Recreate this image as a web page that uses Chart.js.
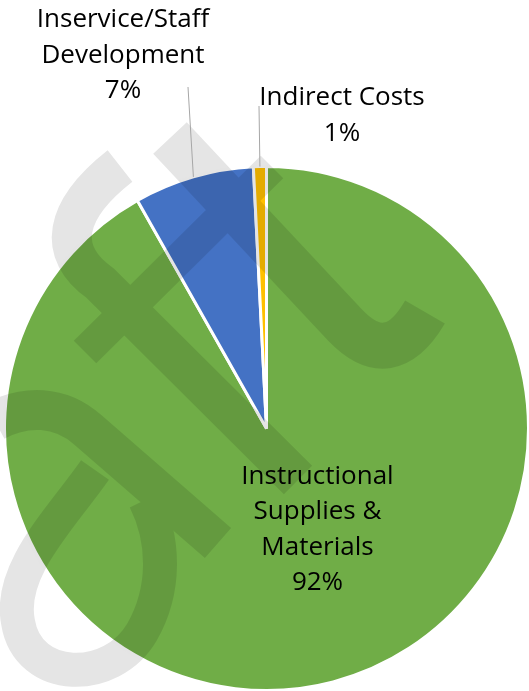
<!DOCTYPE html>
<html>
<head>
<meta charset="utf-8">
<script src="https://cdn.jsdelivr.net/npm/chart.js@4"></script>
<style>
  html, body { margin: 0; padding: 0; background: #fff; }
  #wrap { width: 529px; height: 691px; position: relative; }
</style>
</head>
<body>
<div id="wrap"><canvas id="pieChart"></canvas></div>
<script>
// data
const categories = [
  ['Instructional', 'Supplies &', 'Materials'],
  ['Inservice/Staff', 'Development'],
  ['Indirect Costs']
];
const shares = [91.8, 7.4, 0.8];
const sliceColors = ['#70AD47', '#4472C4', '#FFC000'];

const labelFont = '26px "Open Sans"';
const lineGap = 35.5;

// faint logo behind the labels
function drawWatermark(chart) {
  const off = document.createElement('canvas');
  off.width = chart.width;
  off.height = chart.height;
  const w = off.getContext('2d');
  w.strokeStyle = '#000';
  w.lineCap = 'butt';
  w.lineJoin = 'round';

  // hook + long stem
  w.lineWidth = 40;
  w.beginPath();
  w.moveTo(120, 166);
  w.bezierCurveTo(64, 210, 56, 252, 100, 283);
  w.lineTo(298, 480);
  w.stroke();

  // cross bar
  w.lineWidth = 32;
  w.beginPath();
  w.moveTo(85, 352);
  w.lineTo(272, 167);
  w.stroke();

  // right hooked band
  w.lineWidth = 46;
  w.beginPath();
  w.moveTo(170, 138);
  w.lineTo(345, 325);
  w.quadraticCurveTo(390, 372, 425, 312);
  w.stroke();

  // lower-left "a"
  w.lineWidth = 40;
  w.beginPath();
  w.moveTo(-5, 421);
  w.bezierCurveTo(25, 405, 60, 405, 88, 430);
  w.lineTo(218, 543);
  w.stroke();

  w.lineWidth = 34;
  w.beginPath();
  w.moveTo(95, 470);
  w.bezierCurveTo(60, 520, 8, 570, 18, 622);
  w.bezierCurveTo(28, 684, 112, 684, 142, 632);
  w.bezierCurveTo(166, 590, 165, 540, 145, 500);
  w.stroke();

  const ctx = chart.ctx;
  ctx.save();
  ctx.globalAlpha = 0.1;
  ctx.drawImage(off, 0, 0);
  ctx.restore();
}

const pieLabels = {
  id: 'pieLabels',
  afterDatasetsDraw(chart) {
    drawWatermark(chart);
    const ctx = chart.ctx;
    const arcs = chart.getDatasetMeta(0).data;
    const total = shares.reduce((a, b) => a + b, 0);

    // where each label block sits (center x, first baseline), and leader tops
    const anchors = [
      { x: arcs[0].x + 51, y: arcs[0].y + 55 },
      { x: 123, y: 27, lx: 188, ly: 87 },
      { x: 342, y: 105, lx: 259, ly: 106 }
    ];

    ctx.save();
    ctx.strokeStyle = '#A6A6A6';
    ctx.lineWidth = 1;
    arcs.forEach((arc, i) => {
      const a = anchors[i];
      if (a.lx === undefined) return;
      const mid = (arc.startAngle + arc.endAngle) / 2;
      const ex = arc.x + Math.cos(mid) * arc.outerRadius;
      const ey = arc.y + Math.sin(mid) * arc.outerRadius;
      ctx.beginPath();
      ctx.moveTo(a.lx, a.ly);
      ctx.lineTo(ex, ey);
      ctx.stroke();
    });

    ctx.fillStyle = '#000';
    ctx.font = labelFont;
    ctx.textAlign = 'center';
    ctx.textBaseline = 'alphabetic';
    categories.forEach((lines, i) => {
      const a = anchors[i];
      const pct = Math.round(shares[i] / total * 100) + '%';
      lines.concat([pct]).forEach((t, k) => {
        ctx.fillText(t, a.x, a.y + k * lineGap);
      });
    });
    ctx.restore();
  }
};

new Chart(document.getElementById('pieChart'), {
  type: 'pie',
  data: {
    labels: categories,
    datasets: [{
      data: shares,
      backgroundColor: sliceColors,
      borderColor: '#FFFFFF',
      borderWidth: 3,
      hoverOffset: 0,
      radius: 262
    }]
  },
  options: {
    responsive: true,
    maintainAspectRatio: false,
    animation: false,
    events: [],
    layout: { padding: { left: 4, right: 0, top: 166, bottom: 0 } },
    plugins: {
      legend: { display: false },
      tooltip: { enabled: false }
    }
  },
  plugins: [pieLabels]
});
</script>
</body>
</html>
